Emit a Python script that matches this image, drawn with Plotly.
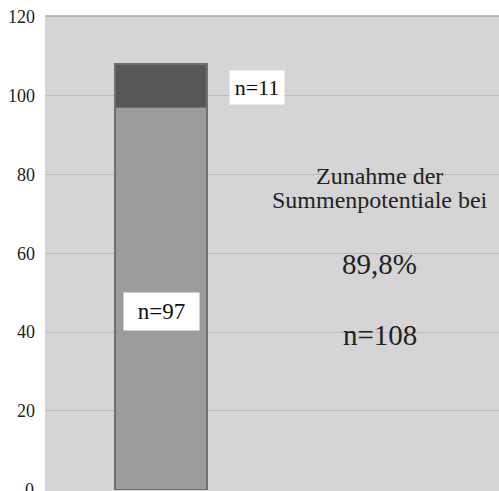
import plotly.graph_objects as go

# Stacked column: patients without / with increase of sum potentials
category = ["Gesamt"]
n_ohne = [97]
n_mit = [11]
y_ticks = [0, 20, 40, 60, 80, 100, 120]

total = n_ohne[0] + n_mit[0]
share = n_ohne[0] / total * 100
share_txt = f"{share:.1f}".replace(".", ",") + "%"

SERIF = "Times New Roman, Liberation Serif, DejaVu Serif, serif"

fig = go.Figure()
fig.add_trace(go.Bar(
    x=[0], y=n_ohne, width=1,
    marker=dict(color="#9c9c9c", line=dict(color="#707070", width=1.5)),
    hoverinfo="skip", name=category[0],
))
fig.add_trace(go.Bar(
    x=[0], y=n_mit, width=1,
    marker=dict(color="#575757", line=dict(color="#707070", width=1.5)),
    hoverinfo="skip", name=category[0],
))

# Count labels in white boxes
fig.add_annotation(x=0, y=45.2, text=f"n={n_ohne[0]}", showarrow=False,
                   font=dict(family=SERIF, size=23, color="#111"),
                   bgcolor="white", width=71, height=33, borderpad=2)
fig.add_annotation(x=1.043, y=102.1, text=f"n={n_mit[0]}", showarrow=False,
                   font=dict(family=SERIF, size=22, color="#111"),
                   bgcolor="white", width=50, height=29, borderpad=2)

# Summary text on the right
fig.add_annotation(x=2.38, y=79.6, text="Zunahme der", showarrow=False,
                   font=dict(family=SERIF, size=24, color="#222"))
fig.add_annotation(x=2.38, y=73.4, text="Summenpotentiale bei", showarrow=False,
                   font=dict(family=SERIF, size=24, color="#222"))
fig.add_annotation(x=2.38, y=57.2, text=share_txt, showarrow=False,
                   font=dict(family=SERIF, size=29, color="#222"))
fig.add_annotation(x=2.38, y=39.2, text=f"n={total}", showarrow=False,
                   font=dict(family=SERIF, size=29, color="#222"))

# The zero label sits on the lower edge of the figure and is partly cut off
fig.add_annotation(xref="paper", x=0, y=0, xanchor="right", yanchor="middle",
                   xshift=-9, text=str(y_ticks[0]), showarrow=False,
                   font=dict(family=SERIF, size=18, color="#222"))

fig.update_layout(
    width=499, height=491,
    margin=dict(l=45, r=0, t=16, b=0),
    paper_bgcolor="white",
    plot_bgcolor="#d5d5d5",
    barmode="stack",
    showlegend=False,
    font=dict(family=SERIF),
    xaxis=dict(range=[-1.261, 3.674], showticklabels=False, showgrid=False,
               zeroline=False, fixedrange=True),
    yaxis=dict(range=[-0.38, 120.25], tickvals=y_ticks[1:], ticks="",
               showgrid=True, gridcolor="#bcbcbc", gridwidth=1,
               zeroline=False, ticklabelstandoff=9,
               tickfont=dict(family=SERIF, size=18, color="#222")),
    shapes=[dict(type="line", xref="paper", yref="paper", x0=0, x1=1, y0=1, y1=1,
                 line=dict(color="#a8a8a8", width=1.5))],
)

fig.write_html("out.html")
